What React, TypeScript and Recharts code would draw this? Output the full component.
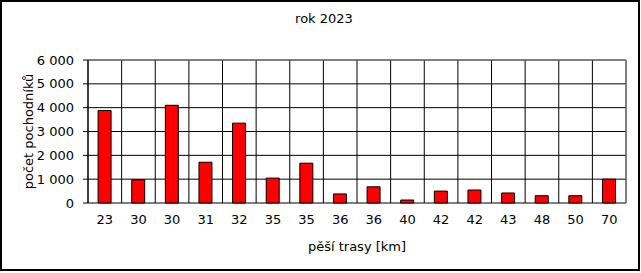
import React from "react";
import { BarChart, Bar, XAxis, YAxis, CartesianGrid, Label, ReferenceLine } from "recharts";

const categories = ["23", "30", "30", "31", "32", "35", "35", "36", "36", "40", "42", "42", "43", "48", "50", "70"];
const hikers = [3880, 975, 4100, 1710, 3350, 1045, 1670, 380, 680, 125, 500, 545, 420, 305, 305, 1000];
const yTicks = [0, 1000, 2000, 3000, 4000, 5000, 6000];
const boundaryTicks = [0, 1, 2, 3, 4, 5, 6, 7, 8, 9, 10, 11, 12, 13, 14, 15, 16];
const title = "rok 2023";
const xTitle = "pěší trasy [km]";
const yTitle = "počet pochodníků";

const data = categories.map((km, i) => ({ idx: i, pos: i + 0.5, km, hikers: hikers[i] }));

const FONT = "'DejaVu Sans', Verdana, sans-serif";
const FS = 13;
const fmt = (v: number) => String(v).replace(/\B(?=(\d{3})+(?!\d))/g, " ");

export default function App() {
  return (
    <div
      style={{
        position: "absolute",
        left: 0,
        top: 0,
        width: 641,
        height: 273,
        background: "#fff",
        fontFamily: FONT,
      }}
    >
      <div
        style={{
          position: "absolute",
          left: 0,
          top: 0,
          width: 636,
          height: 267,
          border: "2px solid #000",
          boxSizing: "content-box",
          pointerEvents: "none",
          zIndex: 2,
        }}
      />
      <div
        style={{
          position: "absolute",
          left: 0,
          top: 11,
          width: 648,
          textAlign: "center",
          fontSize: 13,
          lineHeight: "16px",
          color: "#000",
        }}
      >
        {title}
      </div>
      <BarChart
        width={641}
        height={273}
        data={data}
        margin={{ top: 60, right: 15, bottom: 20, left: 0 }}
        barCategoryGap="30%"
        style={{ position: "absolute", left: 0, top: 0 }}
      >
        <XAxis
          xAxisId="grid"
          type="number"
          dataKey="pos"
          domain={[0, 16]}
          ticks={boundaryTicks}
          allowDataOverflow
          height={0}
          tickSize={4}
          tickFormatter={() => ""}
          stroke="#000"
          axisLine={{ stroke: "#000" }}
          tickLine={{ stroke: "#000" }}
        />
        <XAxis
          xAxisId="cat"
          dataKey="idx"
          type="category"
          height={50}
          axisLine={false}
          tickLine={false}
          tickSize={6}
          tickMargin={6}
          interval={0}
          tickFormatter={(v: number) => categories[v]}
          tick={{ fill: "#000", fontSize: FS, fontFamily: FONT }}
        >
          <Label
            value={xTitle}
            position="insideBottom"
            offset={2}
            style={{ fill: "#000", fontSize: FS, fontFamily: FONT }}
          />
        </XAxis>
        <YAxis
          width={88}
          domain={[0, 6000]}
          ticks={yTicks}
          tickFormatter={fmt}
          tickSize={5}
          tickMargin={9}
          axisLine={{ stroke: "#000" }}
          tickLine={{ stroke: "#000" }}
          tick={{ fill: "#000", fontSize: FS, fontFamily: FONT }}
        >
          <Label
            value={yTitle}
            angle={-90}
            position="center"
            dx={-16}
            style={{ fill: "#000", fontSize: FS, fontFamily: FONT, textAnchor: "middle" }}
          />
        </YAxis>
        <CartesianGrid xAxisId="grid" stroke="#000" strokeOpacity={1} />
        <ReferenceLine y={6000} stroke="#808080" />
        <ReferenceLine xAxisId="grid" x={16} stroke="#808080" />
        <Bar
          xAxisId="cat"
          dataKey="hikers"
          fill="#ff0000"
          stroke="#000"
          strokeWidth={1}
          isAnimationActive={false}
        />
      </BarChart>
    </div>
  );
}
